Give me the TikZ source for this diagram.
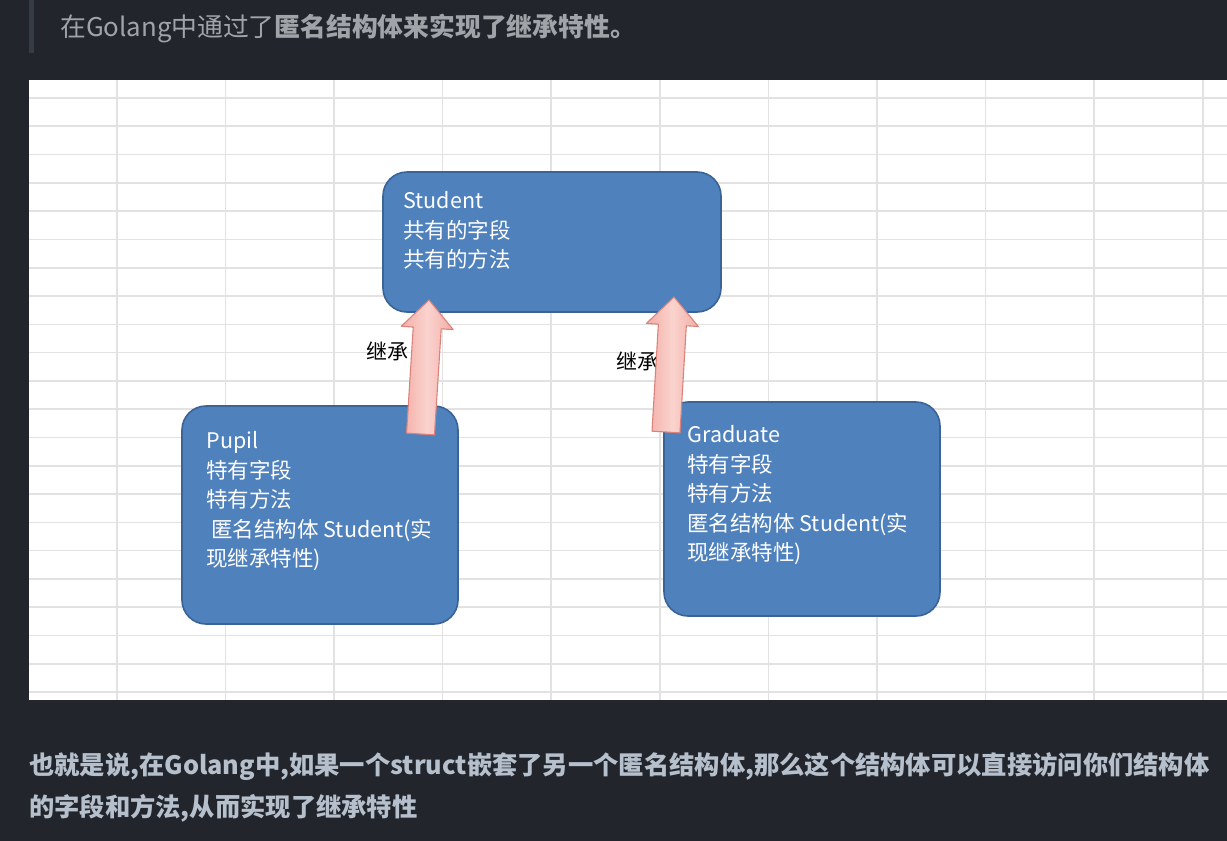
\documentclass[tikz,border=0pt]{standalone}
\usepackage{fontspec}
\setmainfont{Noto Sans CJK SC}
\usepackage{xcolor}
\usepackage{tikz}
\usetikzlibrary{calc,positioning}
\definecolor{page}{HTML}{22262C}
\definecolor{quotebar}{HTML}{343C46}
\definecolor{quotetext}{HTML}{A0A3A8}
\definecolor{bodytext}{HTML}{B6C0CD}
\definecolor{gridline}{HTML}{E2E2E2}
\definecolor{boxfill}{HTML}{4F81BD}
\definecolor{boxline}{HTML}{3A6397}
\definecolor{arrfill}{HTML}{F4ADA6}
\definecolor{arrlight}{HTML}{FAD3CE}
\definecolor{arrline}{HTML}{D9837B}
\tikzset{
  sheetgrid/.style={draw=gridline, line width=1.6pt},
  cls/.style={draw=boxline, fill=boxfill, line width=1.6pt, rounded corners=24pt, inner sep=0pt},
  clstext/.style={text=white, font=\fontsize{21.5}{29.5}\selectfont, align=left, inner sep=0pt, anchor=north west},
  inh/.style={draw=arrline, line width=1.1pt, line join=round, left color=arrfill, right color=arrfill, middle color=arrlight},
  inhlab/.style={text=black, font=\fontsize{21}{21}\selectfont, inner sep=0pt},
  lead/.style={text=quotetext, font=\fontsize{25.8}{30}\selectfont, inner sep=0pt, anchor=base west},
  para/.style={text=bodytext, font=\fontsize{25.3}{42}\selectfont\bfseries, align=left, inner sep=0pt, anchor=north west},
}

\begin{document}
\begin{tikzpicture}[x=1pt, y=-1pt]
  \fill[page] (0,0) rectangle (1227,841);
  \useasboundingbox (0,0) rectangle (1227,841);

  % quote line
  \fill[quotebar] (29,0) rectangle (34,53);
  \node[lead] (leadtxt) at (60,36.5) {在Golang中通过了\textbf{匿名结构体来实现了继承特性。}};

  % spreadsheet background
  \fill[white] (29,80) rectangle (1227,700);
  \foreach \i in {0,...,10}
    \draw[sheetgrid] ({116.7+108.6*\i},80) -- ({116.7+108.6*\i},700);
  \foreach \j in {0,...,21}
    \draw[sheetgrid] (29,{98+28.29*\j}) -- (1227,{98+28.29*\j});

  \node[cls, minimum width=338pt, minimum height=140pt] (student) at (552,242) {};
  \node[clstext] (studenttxt) at ($(student.north west)+(21,20)$) {Student\\共有的字段\\共有的方法};

  \node[cls, minimum width=276pt, minimum height=218pt] (pupil) at (320,515) {};
  \node[clstext] (pupiltxt) at ($(pupil.north west)+(25,26)$)
    {Pupil\\特有字段\\特有方法\\\hspace{5pt}匿名结构体 Student(实\\现继承特性)};

  \node[cls, minimum width=276pt, minimum height=214pt] (graduate) at (802,509) {};
  \node[clstext] (graduatetxt) at ($(graduate.north west)+(24,24)$)
    {Graduate\\特有字段\\特有方法\\匿名结构体 Student(实\\现继承特性)};

  \node[inhlab] (inhleft) at (387,351) {继承};
  \node[inhlab] (inhright) at (637,361) {继承};

  % block arrows
  \coordinate (pupiltail) at (420.5,434);
  \coordinate (pupiltip) at (429,300);
  \coordinate (graduatetail) at (666,432);
  \coordinate (graduatetip) at (674,297);
  \foreach \t/\h in {pupiltail/pupiltip, graduatetail/graduatetip}{
    \coordinate (hb) at ($(\h)!28pt!(\t)$);
    \draw[inh] ($(\t)!14pt!90:(\h)$) -- ($(hb)!14pt!90:(\h)$) -- ($(hb)!26pt!90:(\h)$)
      -- (\h) -- ($(hb)!26pt!-90:(\h)$) -- ($(hb)!14pt!-90:(\h)$) -- ($(\t)!14pt!-90:(\h)$) -- cycle;
  }

  \node[para] (summary) at (29,752)
    {也就是说,在Golang中,如果一个struct嵌套了另一个匿名结构体,那么这个结构体可以直接访问你们结构体\\的字段和方法,从而实现了继承特性};
\end{tikzpicture}
\end{document}
